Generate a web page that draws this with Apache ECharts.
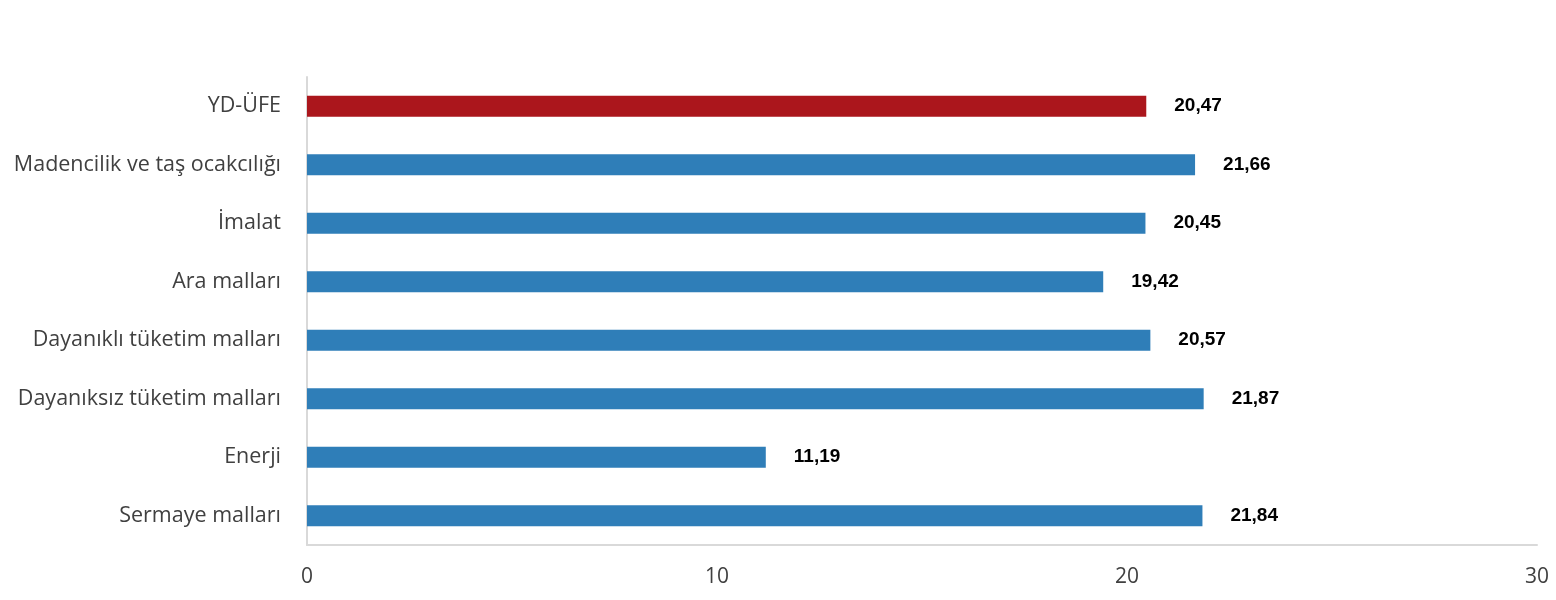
<!DOCTYPE html>
<html><head><meta charset="utf-8">
<script src="https://cdn.jsdelivr.net/npm/echarts@6/dist/echarts.min.js"></script>
<style>html,body{margin:0;padding:0;background:#fff}#c{width:1556px;height:600px}</style>
</head><body><div id="c"></div>
<script>
const categories = ["YD-ÜFE","Madencilik ve taş ocakcılığı","İmalat","Ara malları","Dayanıklı tüketim malları","Dayanıksız tüketim malları","Enerji","Sermaye malları"];
const values = [20.47,21.66,20.45,19.42,20.57,21.87,11.19,21.84];
const highlight = ["YD-ÜFE"];
const axisTicks = [0,10,20,30];

const chart = echarts.init(document.getElementById('c'), null, {renderer:'canvas'});
chart.setOption({
  animation:false,
  grid:{left:307,right:19,top:77,bottom:55,containLabel:false},
  xAxis:{type:'value',min:0,max:30,interval:10,
    axisLine:{show:true,lineStyle:{color:'#d9d9d9',width:2}},
    axisTick:{show:false},splitLine:{show:false},
    axisLabel:{color:'#404040',fontSize:21,fontFamily:'Open Sans',margin:22,
      formatter:v=>axisTicks.includes(v)?String(v):''}},
  yAxis:{type:'category',inverse:true,data:categories,
    axisLine:{show:true,lineStyle:{color:'#d9d9d9',width:2}},
    axisTick:{show:false},
    axisLabel:{color:'#404040',fontSize:21.5,fontWeight:500,fontFamily:'Open Sans',margin:26}},
  series:[{type:'bar',barWidth:21,
    data:values.map((v,i)=>({value:v,itemStyle:{color:highlight.includes(categories[i])?'#AB161C':'#2F7EB8'}})),
    label:{show:true,position:'right',distance:28,color:'#000',fontWeight:'bold',fontSize:19,fontFamily:'Liberation Sans',
      formatter:p=>p.value.toFixed(2).replace('.',',')}}]
});
</script></body></html>
